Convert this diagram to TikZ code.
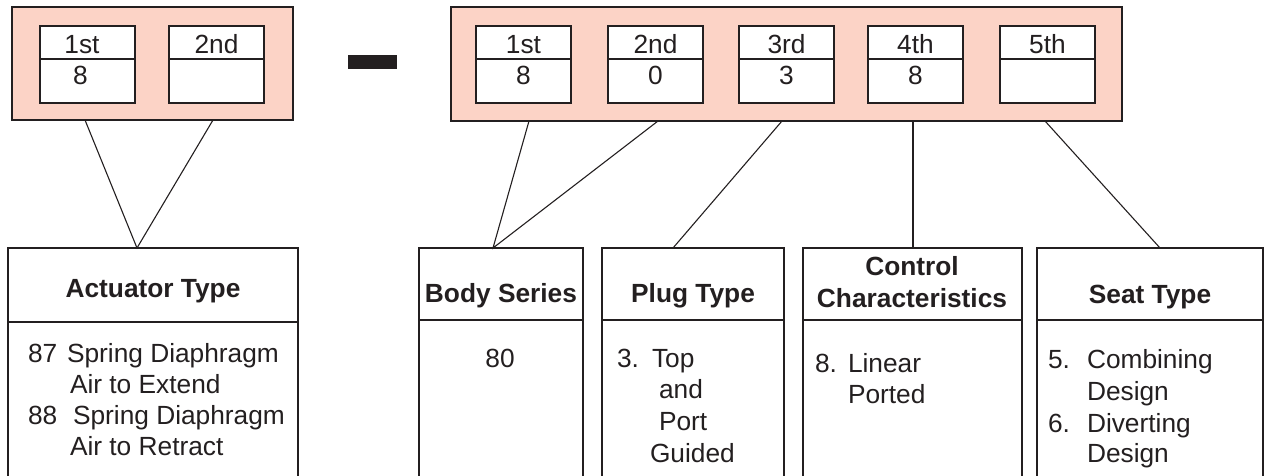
\documentclass[tikz,border=0pt]{standalone}
\usepackage{fontspec}
\setmainfont{Liberation Sans}
\definecolor{peach}{RGB}{252,211,198}
\definecolor{ink}{RGB}{35,31,32}
\begin{document}
\begin{tikzpicture}[x=1pt,y=-1pt,
  every node/.style={inner sep=0pt, outer sep=0pt, text=ink, font=\fontsize{26.3}{31}\selectfont},
  pinkbox/.style={draw=ink, line width=1.2pt, fill=peach, anchor=north west},
  celltop/.style={draw=ink, line width=1.2pt, fill=white, anchor=north west, minimum width=95pt, minimum height=33pt},
  cellbot/.style={draw=ink, line width=1.2pt, fill=white, anchor=north west, minimum width=95pt, minimum height=44pt},
  titlebox/.style={draw=ink, line width=1.2pt, anchor=north west},
  side/.style={draw=ink, line width=1.2pt},
  conn/.style={draw=ink, line width=1.1pt},
  lbl/.style={anchor=base},
  ttl/.style={anchor=base, font=\fontsize{26.3}{31}\selectfont\bfseries},
  txt/.style={anchor=base west}
]
\useasboundingbox (0,0) rectangle (1265,476);

% ---------- upper pink boxes ----------
\node[pinkbox, minimum width=281pt, minimum height=113pt] (L) at (12,7) {};
\node[pinkbox, minimum width=671pt, minimum height=114pt] (R) at (451,7) {};

% dash
\fill[ink] (348,55) rectangle (397,69);

% left cells
\node[celltop] (l1t) at (40,26) {};
\node[cellbot] (l1b) at (40,59) {};
\node[celltop] (l2t) at (169,26) {};
\node[cellbot] (l2b) at (169,59) {};
\node[lbl] (l1tl) at (82,54) {1st};
\node[lbl] (l1bl) at (80.5,85) {8};
\node[lbl] (l2tl) at (216.5,54) {2nd};

% right cells
\node[celltop] (r1t) at (476,26) {};
\node[cellbot] (r1b) at (476,59) {};
\node[celltop] (r2t) at (608,26) {};
\node[cellbot] (r2b) at (608,59) {};
\node[celltop] (r3t) at (739,26) {};
\node[cellbot] (r3b) at (739,59) {};
\node[celltop] (r4t) at (868,26) {};
\node[cellbot] (r4b) at (868,59) {};
\node[celltop] (r5t) at (1000,26) {};
\node[cellbot] (r5b) at (1000,59) {};
\node[lbl] (r1tl) at (523.5,54) {1st};
\node[lbl] (r1bl) at (523.5,85) {8};
\node[lbl] (r2tl) at (655.5,54) {2nd};
\node[lbl] (r2bl) at (655.5,85) {0};
\node[lbl] (r3tl) at (786.5,54) {3rd};
\node[lbl] (r3bl) at (786.5,85) {3};
\node[lbl] (r4tl) at (915.5,54) {4th};
\node[lbl] (r4bl) at (915.5,85) {8};
\node[lbl] (r5tl) at (1047.5,54) {5th};

% ---------- lower boxes ----------
\node[titlebox, minimum width=290pt, minimum height=74pt] (tA) at (8,248) {};
\node[titlebox, minimum width=164pt, minimum height=72pt] (tB) at (419,248) {};
\node[titlebox, minimum width=182pt, minimum height=72pt] (tP) at (602,248) {};
\node[titlebox, minimum width=219pt, minimum height=72pt] (tC) at (803,248) {};
\node[titlebox, minimum width=226pt, minimum height=72pt] (tS) at (1037,248) {};

\foreach \b in {tA,tB,tP,tC,tS}{
  \draw[side] (\b.south west) -- ++(0,160);
  \draw[side] (\b.south east) -- ++(0,160);
}

% titles
\node[ttl] (nA) at (153,297) {Actuator Type};
\node[ttl] (nB) at (501,302) {Body Series};
\node[ttl] (nP) at (693,302) {Plug Type};
\node[ttl] (nC1) at (912,275) {Control};
\node[ttl] (nC2) at (912,307) {Characteristics};
\node[ttl] (nS) at (1150,303) {Seat Type};

% actuator entries
\node[txt] (a1) at (28,362) {87};
\node[txt] (a2) at (67,362) {Spring Diaphragm};
\node[txt] (a3) at (70,393) {Air to Extend};
\node[txt] (a4) at (28,424) {88};
\node[txt] (a5) at (73,424) {Spring Diaphragm};
\node[txt] (a6) at (70,455) {Air to Retract};

% body series
\node[lbl] (b1) at (500,367) {80};

% plug type
\node[txt] (p1) at (617,367) {3.};
\node[txt] (p2) at (652,367) {Top};
\node[txt] (p3) at (659,398) {and};
\node[txt] (p4) at (659,430) {Port};
\node[txt] (p5) at (650,462) {Guided};

% control
\node[txt] (c1) at (815,372) {8.};
\node[txt] (c2) at (848,372) {Linear};
\node[txt] (c3) at (848,403) {Ported};

% seat
\node[txt] (s1) at (1048,368) {5.};
\node[txt] (s2) at (1087,368) {Combining};
\node[txt] (s3) at (1087,400) {Design};
\node[txt] (s4) at (1048,432) {6.};
\node[txt] (s5) at (1087,432) {Diverting};
\node[txt] (s6) at (1087,462) {Design};

% ---------- connectors ----------
\coordinate (uA1) at (85,120);
\coordinate (uA2) at (213,120);
\coordinate (vA) at (137,248);
\coordinate (uB1) at (529,121);
\coordinate (uB2) at (658,121);
\coordinate (vB) at (493,248);
\coordinate (uP) at (782,121);
\coordinate (vP) at (673,248);
\coordinate (uC) at (913,121);
\coordinate (vC) at (913,248);
\coordinate (uS) at (1045,121);
\coordinate (vS) at (1160,248);
\draw[conn] (uA1) -- (vA) -- (uA2);
\draw[conn] (uB1) -- (vB) -- (uB2);
\draw[conn] (uP) -- (vP);
\draw[conn] (uC) -- (vC);
\draw[conn] (uS) -- (vS);
\end{tikzpicture}
\end{document}
